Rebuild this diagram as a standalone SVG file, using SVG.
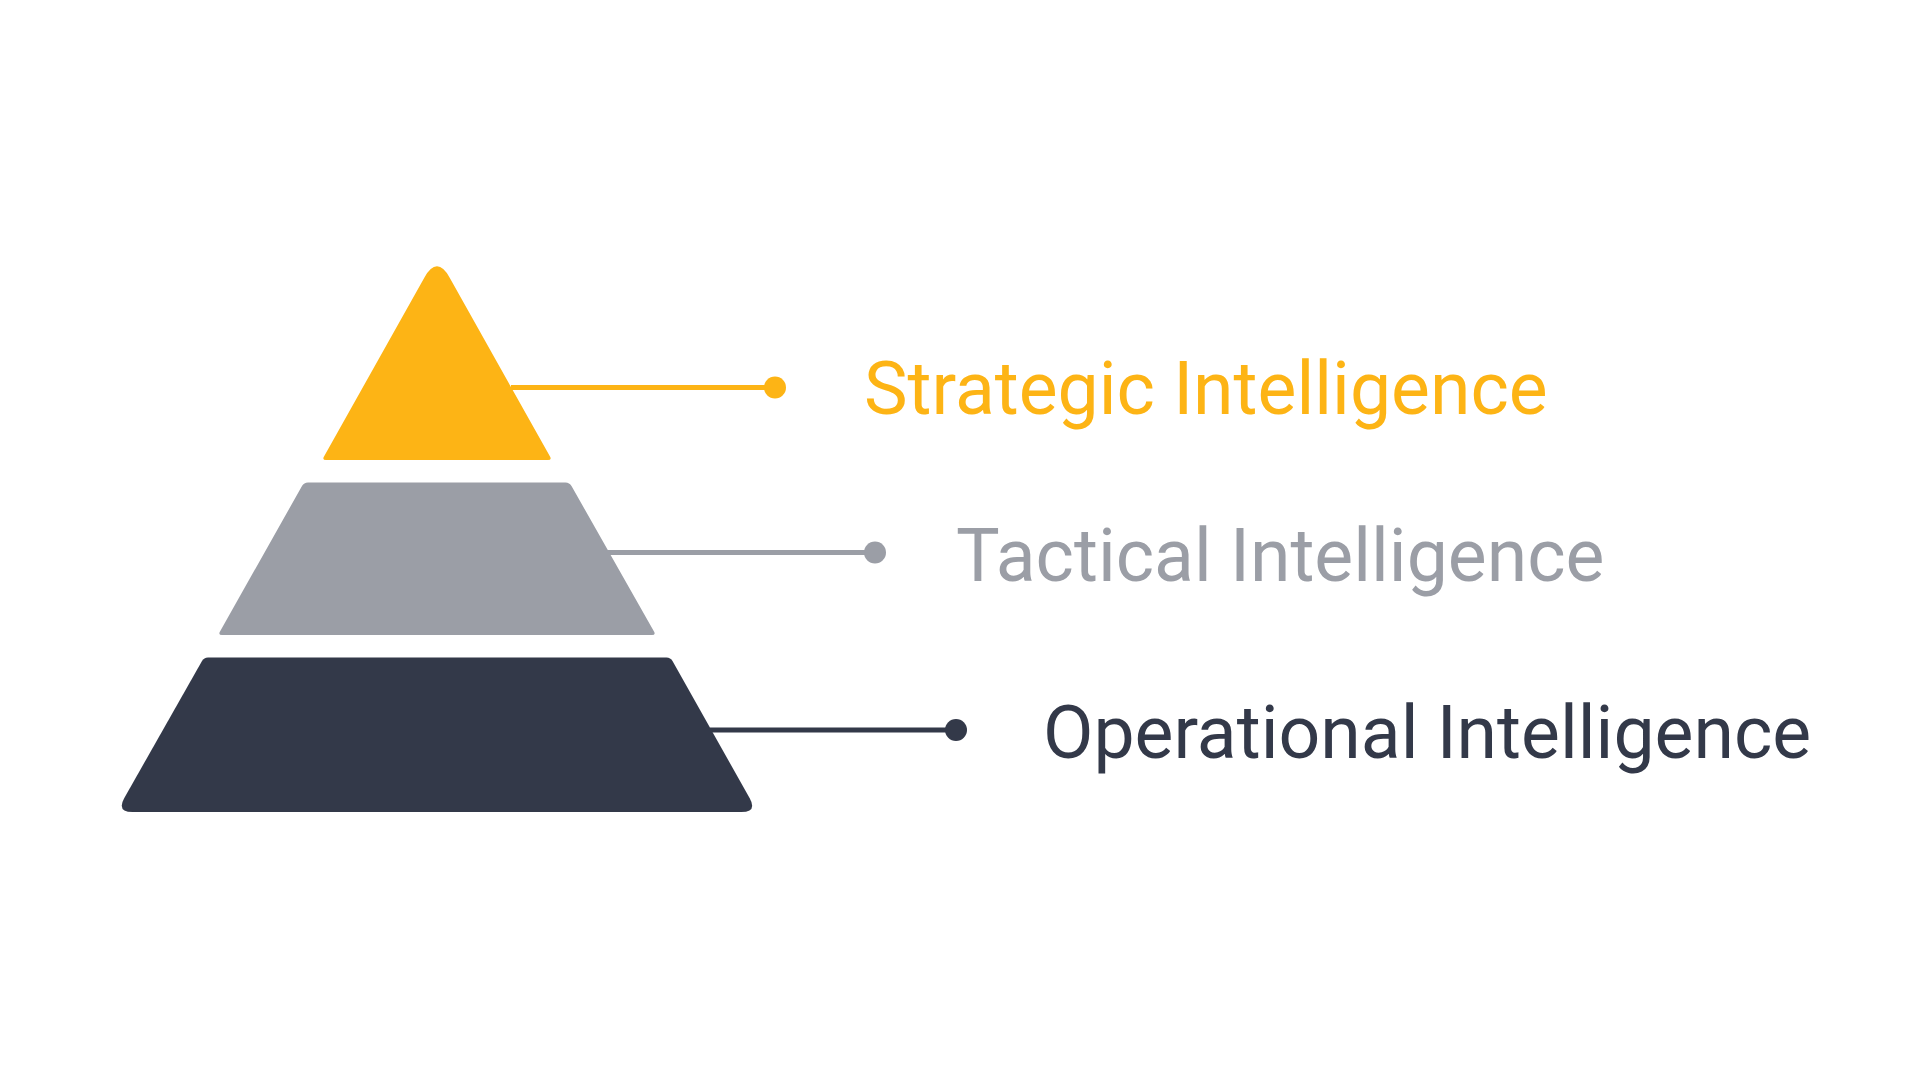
<svg xmlns="http://www.w3.org/2000/svg" width="1920" height="1080" viewBox="0 0 1920 1080">
<style>
.lbl{font-family:Roboto,"Liberation Sans",sans-serif;font-size:73.3px}
.y{fill:#FDB415}.g{fill:#9B9EA6}.d{fill:#333949}
.ys{stroke:#FDB415}.gs{stroke:#9B9EA6}.ds{stroke:#333949}
.ln{stroke-width:5;fill:none}
</style>
<rect width="1920" height="1080" fill="#FFFFFF"/>
<g id="node-strategic">
<path class="y" d="M 424.3 277.7 Q 437 255 449.7 277.7 L 550 456.5 Q 552 460 548 460 L 326 460 Q 322 460 324 456.5 Z"/>
<text class="lbl y" x="864" y="414">Strategic Intelligence</text>
</g>
<g id="node-tactical">
<path class="g" d="M 309 482.5 L 565.5 482.5 Q 569.5 482.5 571.5 486 L 654 631.5 Q 656 635 652 635 L 222 635 Q 218 635 220 631.5 L 302 486 Q 304 482.5 308 482.5 Z"/>
<text class="lbl g" x="956" y="580.5">Tactical Intelligence</text>
</g>
<g id="node-operational">
<path class="d" d="M 208 657.5 L 666.5 657.5 Q 670.5 657.5 672.5 661 L 749.6 798 Q 757.4 812 741.4 812 L 132.5 812 Q 116.5 812 124.3 798 L 202 661 Q 204 657.5 208 657.5 Z"/>
<text class="lbl d" x="1043" y="757.5">Operational Intelligence</text>
</g>
<g id="connectors">
<line class="ln ys" x1="511" y1="387.5" x2="775" y2="387.5"/>
<circle class="y" cx="775" cy="387.5" r="11"/>
<line class="ln gs" x1="607" y1="552.5" x2="875" y2="552.5"/>
<circle class="g" cx="875" cy="552.5" r="11"/>
<line class="ln ds" x1="710" y1="730" x2="956" y2="730"/>
<circle class="d" cx="956" cy="730" r="11"/>
</g>
</svg>
